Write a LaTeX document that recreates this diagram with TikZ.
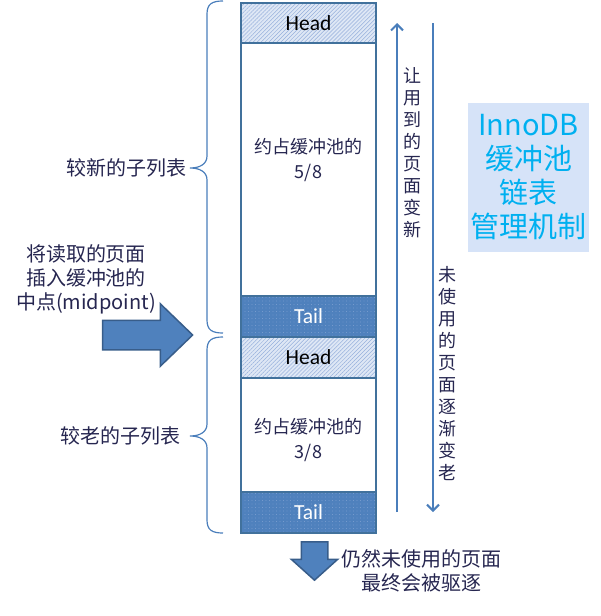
\documentclass[tikz,border=0pt]{standalone}
\usepackage{fontspec}
\setmainfont{Noto Sans CJK SC}
\newfontfamily\carlito{Carlito}
\usetikzlibrary{positioning,shapes.arrows,arrows.meta,patterns.meta}
\definecolor{rand}{RGB}{65,113,156}
\definecolor{kopfbg}{RGB}{222,231,245}
\definecolor{kopfstrich}{RGB}{150,176,220}
\definecolor{schwanz}{RGB}{79,129,189}
\definecolor{punkt}{RGB}{140,170,215}
\definecolor{tinte}{RGB}{38,38,80}
\definecolor{linie}{RGB}{74,126,187}
\definecolor{pfeilrand}{RGB}{56,93,138}
\definecolor{infobg}{RGB}{214,227,248}
\definecolor{infotext}{RGB}{0,176,240}
\tikzset{
  caja/.style={draw=rand, line width=2pt, minimum width=135pt, inner sep=0pt, align=center},
  headbox/.style={caja, preaction={fill=kopfbg}, pattern={Lines[angle=45,distance=2.8pt,line width=0.5pt]}, pattern color=kopfstrich, text=black, font=\carlito\fontsize{21.5}{22}\selectfont},
  tailbox/.style={caja, preaction={fill=schwanz}, pattern={Dots[distance=3.5pt,radius=0.45pt]}, pattern color=punkt, text=white, font=\carlito\fontsize{21.5}{22}\selectfont},
  poolbox/.style={caja, fill=white},
  texto/.style={text=tinte, align=center, inner sep=0pt, font=\fontsize{18}{25}\selectfont},
  textogrande/.style={texto, font=\fontsize{20}{24}\selectfont},
  vertical/.style={text=tinte, align=center, inner sep=0pt, font=\fontsize{18}{22}\selectfont},
  flechita/.style={draw=linie, line width=2pt, -{Straight Barb[length=6pt,width=12pt,line width=2pt]}},
  llave/.style={draw=linie, line width=1.2pt},
  flecha/.style={single arrow, fill=schwanz, draw=pfeilrand, line width=1.5pt, single arrow head indent=0pt},
}
\begin{document}
\begin{tikzpicture}[x=1pt,y=-1pt]
\useasboundingbox (0,0) rectangle (600,616);
% la pila del buffer pool
\node[poolbox, minimum height=253pt] (young) at (308.5,169.5) {};
\node[headbox, minimum height=40pt] (head1) at (308.5,23) {Head};
\node[tailbox, minimum height=41pt] (tail1) at (308.5,316.5) {Tail};
\node[headbox, minimum height=41pt] (head2) at (308.5,357.5) {Head};
\node[poolbox, minimum height=114pt] (old) at (308.5,435) {};
\node[tailbox, minimum height=41pt] (tail2) at (308.5,512.5) {Tail};
\node[texto] (youngtxt) at (308.5,160) {约占缓冲池的\\5/8};
\node[texto] (oldtxt) at (308.5,440) {约占缓冲池的\\3/8};

% flechas verticales
\coordinate (arriba1) at (397,23);
\coordinate (abajo1) at (397,512);
\coordinate (arriba2) at (433,23);
\coordinate (abajo2) at (433,512);
\draw[flechita] (abajo1) -- (arriba1);
\draw[flechita] (arriba2) -- (abajo2);
\node[vertical] (nuevo) at (412,153) {让\\用\\到\\的\\页\\面\\变\\新};
\node[vertical] (viejo) at (447,374) {未\\使\\用\\的\\页\\面\\逐\\渐\\变\\老};

% titulo
\node[fill=infobg, minimum width=121pt, minimum height=149pt, inner sep=0pt] (info) at (528.5,177.5) {};
\node[text=infotext, align=center, inner sep=0pt, font=\fontsize{29}{34}\selectfont] (infotxt) at (info.center) {InnoDB\\缓冲池\\链表\\管理机制};

% llaves
\draw[llave] (223,1) .. controls (212,1) and (207,4) .. (207,14) -- (207,156)
  .. controls (207,164) and (200,168) .. (190,168)
  .. controls (200,168) and (207,172) .. (207,180) -- (207,320)
  .. controls (207,330) and (212,333) .. (223,333);
\draw[llave] (223,337) .. controls (212,337) and (207,340) .. (207,350) -- (207,424)
  .. controls (207,432) and (200,436) .. (190,436)
  .. controls (200,436) and (207,440) .. (207,448) -- (207,520)
  .. controls (207,530) and (212,533) .. (223,533);
\node[textogrande, anchor=east] (nueva) at (187,168) {较新的子列表};
\node[textogrande, anchor=east] (vieja) at (181,436) {较老的子列表};

% insercion en el punto medio
\node[textogrande] (insertar) at (86,279) {将读取的页面\\插入缓冲池的\\中点(midpoint)};
\node[flecha, minimum height=90pt, inner sep=14pt, single arrow head extend=16.5pt, single arrow tip angle=88] (entra) at (140,335) {};

% expulsion
\node[flecha, rotate=-90, minimum height=35pt, inner sep=12.5pt, single arrow head extend=10pt, single arrow tip angle=96] (sale) at (314.5,555) {};
\node[textogrande] (expulsar) at (421,571) {仍然未使用的页面\\最终会被驱逐};
\end{tikzpicture}
\end{document}
